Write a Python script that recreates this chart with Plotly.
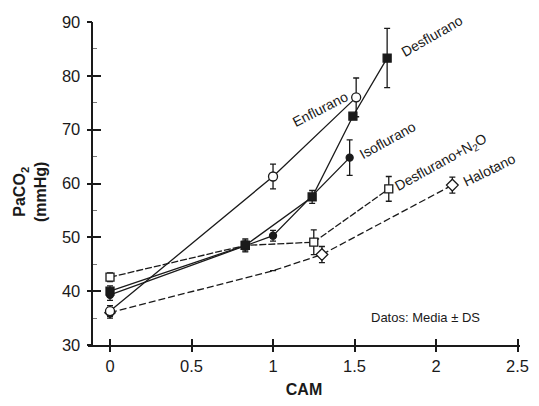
import plotly.graph_objects as go

# ---- data ----
desf_x = [0, 0.83, 1.24, 1.49, 1.70]
desf_y = [40.0, 48.5, 57.5, 72.5, 83.3]
desf_e = [1.0, 1.2, 1.2, 0.0, 5.5]

iso_x = [0, 1.0, 1.47]
iso_y = [39.3, 50.3, 64.8]
iso_e = [1.0, 1.0, 3.3]

enf_x = [0, 1.0, 1.51]
enf_y = [36.3, 61.3, 76.0]
enf_e = [1.0, 2.3, 3.6]

dn2o_x = [0, 0.83, 1.25, 1.71]
dn2o_y = [42.6, 48.5, 49.1, 59.0]
dn2o_e = [0.8, 1.0, 2.3, 2.3]

halo_x = [0, 1.0, 1.30, 2.10]
halo_y = [36.0, 43.8, 46.8, 59.7]
halo_e = [1.0, 0.0, 1.5, 1.5]
halo_msize = [8, 0, 9, 9]

x_ticks = [0, 0.5, 1, 1.5, 2, 2.5]
x_tick_labels = ["0", "0.5", "1", "1.5", "2", "2.5"]
y_ticks = [30, 40, 50, 60, 70, 80, 90]
y_minor = [35, 45, 55, 65, 75, 85]

INK = "#1a1a1a"
font = "Arial, Liberation Sans, sans-serif"

XR = [-0.135, 2.515]
YR = [30, 90]
YPOS = 0.01

fig = go.Figure()

def add_series(x, y, e, symbol, size, fill, dash="solid", width=1.3):
    fig.add_trace(go.Scatter(
        x=x, y=y, mode="lines+markers",
        line=dict(color=INK, width=width, dash=dash),
        marker=dict(symbol=symbol, size=size, color=fill, opacity=1,
                    line=dict(color=INK, width=1.3)),
        error_y=dict(type="data", array=e, visible=True, color=INK, thickness=1.3, width=3),
        showlegend=False, hoverinfo="skip"))

add_series(halo_x, halo_y, halo_e, "diamond", halo_msize, "#ffffff", dash="7px,3px")
add_series(dn2o_x, dn2o_y, dn2o_e, "square", 8, "#ffffff", dash="7px,2px")
add_series(enf_x, enf_y, enf_e, "circle", 9, "#ffffff")
add_series(iso_x, iso_y, iso_e, "circle", 7, INK)
add_series(desf_x, desf_y, desf_e, "square", 8, INK)

fig.update_layout(
    width=539, height=406,
    margin=dict(l=88, r=19, t=22, b=61),
    paper_bgcolor="white", plot_bgcolor="white",
    font=dict(family=font, color=INK, size=16),
    xaxis=dict(range=XR, tickvals=x_ticks, ticktext=x_tick_labels, automargin=False,
               showgrid=False, zeroline=False, showline=True, linecolor=INK, linewidth=1.5,
               ticks="outside", ticklen=5, tickwidth=1.5, tickcolor=INK,
               tickfont=dict(size=16.5), anchor="y", ticklabeloverflow="allow",
               title=dict(text="<b>CAM</b>", font=dict(size=16), standoff=10)),
    yaxis=dict(range=YR, tickvals=y_ticks, automargin=False,
               showgrid=False, zeroline=False, showline=True, linecolor=INK, linewidth=1.5,
               ticks="outside", ticklen=5, tickwidth=1.5, tickcolor=INK,
               tickfont=dict(size=16.5), anchor="free", position=YPOS,
               ticklabelstandoff=3,
               minor=dict(tickvals=y_minor, ticks="inside", ticklen=4,
                          tickcolor="#777", tickwidth=1)),
    # overlay axes to give the major ticks their inner half (crossing ticks)
    xaxis2=dict(range=XR, overlaying="x", anchor="y", side="bottom", tickvals=x_ticks,
                showticklabels=False, ticks="inside", ticklen=6, tickwidth=1.5,
                tickcolor=INK, showgrid=False, zeroline=False, showline=False),
    yaxis2=dict(range=YR, overlaying="y", anchor="free", position=YPOS, side="left",
                tickvals=y_ticks, showticklabels=False, ticks="inside", ticklen=8,
                tickwidth=1.5, tickcolor=INK, showgrid=False, zeroline=False, showline=False),
)
# invisible trace so the overlay axes are drawn
fig.add_trace(go.Scatter(x=[XR[0]], y=[YR[0]], xaxis="x2", yaxis="y2", mode="markers",
                         marker=dict(size=0, opacity=0), showlegend=False, hoverinfo="skip"))

# y-axis title (two lines)
fig.add_annotation(xref="paper", yref="paper", x=-0.134, y=0.474, xanchor="center",
                   yanchor="middle", showarrow=False,
                   text="<b>PaCO<sub>2</sub><br>(mmHg)</b>", textangle=-90,
                   font=dict(size=16, family=font, color=INK))

labels = [
    ("Desflurano", 1.975, 87.4, -30),
    ("Enflurano", 1.29, 73.9, -27),
    ("Isoflurano", 1.705, 68.0, -29),
    ("Desflurano+N<sub>2</sub>O", 2.03, 63.8, -29),
    ("Halotano", 2.325, 62.6, -26),
]
for txt, x, y, ang in labels:
    fig.add_annotation(x=x, y=y, text=txt, showarrow=False, textangle=ang,
                       xanchor="center", yanchor="middle",
                       font=dict(size=14, family=font, color=INK))

fig.add_annotation(x=1.933, y=35.2, text="Datos: Media ± DS", showarrow=False,
                   xanchor="center", yanchor="middle",
                   font=dict(size=13, family=font, color=INK))

fig.write_html(
    "out.html",
    config={"displayModeBar": False},
    post_script="document.body.style.margin='0';document.body.style.overflow='hidden';",
)
